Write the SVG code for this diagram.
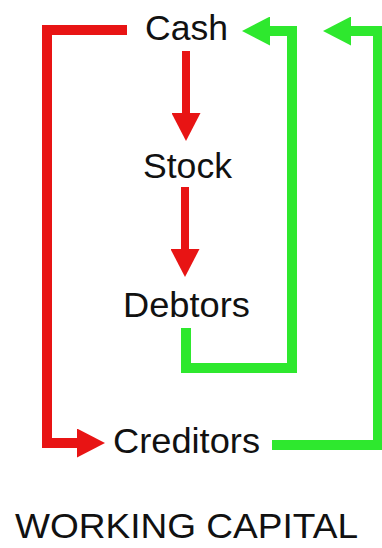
<svg xmlns="http://www.w3.org/2000/svg" width="382" height="548" viewBox="0 0 382 548">
  <style>
    .lbl { font-family: "Liberation Sans", Arial, sans-serif; font-size: 35px; fill: #111; text-anchor: middle; }
    .red { fill: none; stroke: #e81414; stroke-linejoin: miter; stroke-linecap: butt; }
    .green { fill: none; stroke: #2ee82e; stroke-linejoin: miter; stroke-linecap: butt; }
  </style>
  <defs>
    <marker id="headRed" markerUnits="userSpaceOnUse" markerWidth="29" markerHeight="29" refX="0" refY="14.5" orient="auto" viewBox="0 0 29 29">
      <path d="M0,0 L28,14.5 L0,29 Z" fill="#e81414"/>
    </marker>
    <marker id="headGreen" markerUnits="userSpaceOnUse" markerWidth="29" markerHeight="29" refX="0" refY="14.5" orient="auto" viewBox="0 0 29 29">
      <path d="M0,0 L28,14.5 L0,29 Z" fill="#2ee82e"/>
    </marker>
  </defs>
  <rect width="382" height="548" fill="#ffffff"/>
  <g id="connectors">
    <path class="red" stroke-width="8" d="M186,51 V113" marker-end="url(#headRed)"/>
    <path class="red" stroke-width="8" d="M185,187 V249" marker-end="url(#headRed)"/>
    <path class="red" stroke-width="10" d="M127,30 H47 V443 H77" marker-end="url(#headRed)"/>
    <path class="green" stroke-width="10" d="M186,328 V368 H292 V31 H270" marker-end="url(#headGreen)"/>
    <path class="green" stroke-width="10" d="M272,445 H378 V31 H351" marker-end="url(#headGreen)"/>
  </g>
  <g id="cash"><text class="lbl" x="186.5" y="40" textLength="83" lengthAdjust="spacingAndGlyphs">Cash</text></g>
  <g id="stock"><text class="lbl" x="187.5" y="178" textLength="89" lengthAdjust="spacingAndGlyphs">Stock</text></g>
  <g id="debtors"><text class="lbl" x="186.5" y="317" textLength="127" lengthAdjust="spacingAndGlyphs">Debtors</text></g>
  <g id="creditors"><text class="lbl" x="186.5" y="453" textLength="147" lengthAdjust="spacingAndGlyphs">Creditors</text></g>
  <g id="title"><text class="lbl" x="186.5" y="538" textLength="343" lengthAdjust="spacingAndGlyphs">WORKING CAPITAL</text></g>
</svg>
